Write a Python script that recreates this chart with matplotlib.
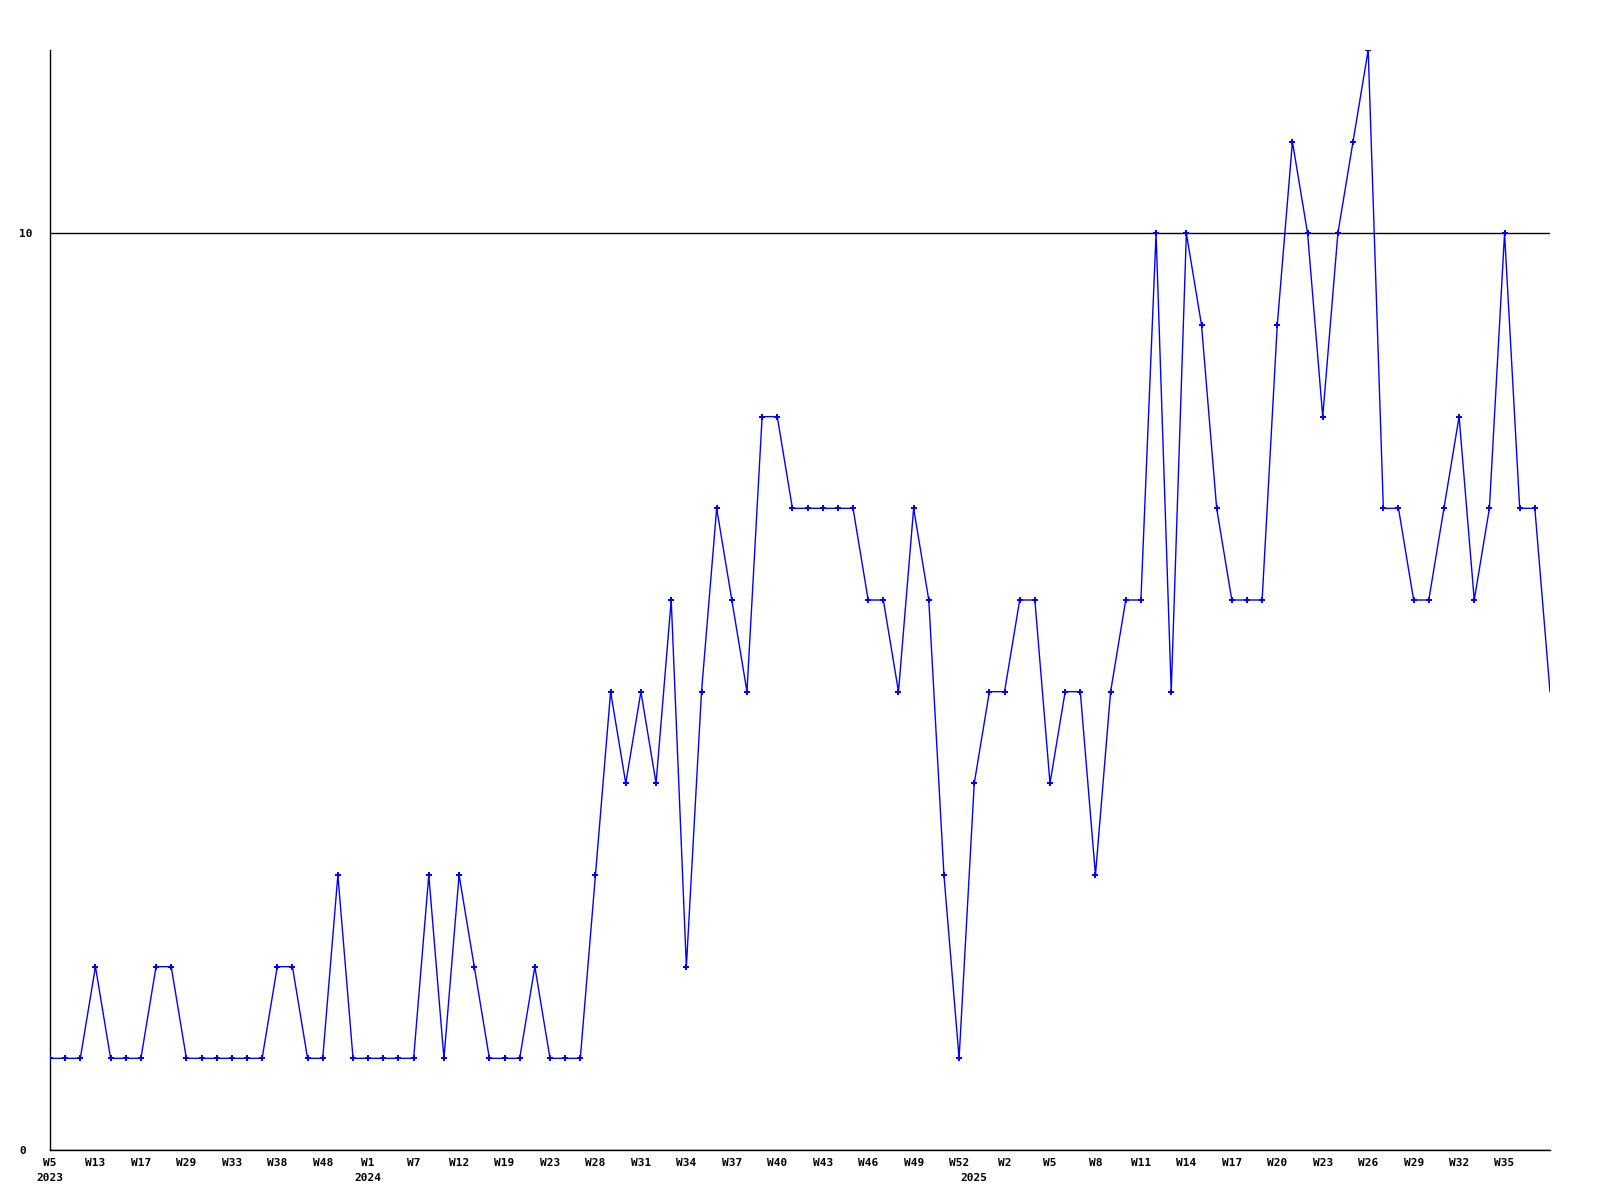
import numpy as np
import matplotlib
matplotlib.use("Agg")
import matplotlib.pyplot as plt
import matplotlib.transforms as mtransforms

# weekly counts, one point per reported week
values = [
    1, 1, 1, 2, 1, 1, 1, 2, 2, 1,
    1, 1, 1, 1, 1, 2, 2, 1, 1, 3,
    1, 1, 1, 1, 1, 3, 1, 3, 2, 1,
    1, 1, 2, 1, 1, 1, 3, 5, 4, 5,
    4, 6, 2, 5, 7, 6, 5, 8, 8, 7,
    7, 7, 7, 7, 6, 6, 5, 7, 6, 3,
    1, 4, 5, 5, 6, 6, 4, 5, 5, 3,
    5, 6, 6, 10, 5, 10, 9, 7, 6, 6,
    6, 9, 11, 10, 8, 10, 11, 12, 7, 7,
    6, 6, 7, 8, 6, 7, 10, 7, 7, 5,
]

# every third point is labelled
week_labels = [
    "W5", "W13", "W17", "W29", "W33", "W38", "W48", "W1", "W7", "W12",
    "W19", "W23", "W28", "W31", "W34", "W37", "W40", "W43", "W46", "W49",
    "W52", "W2", "W5", "W8", "W11", "W14", "W17", "W20", "W23", "W26",
    "W29", "W32", "W35",
]
label_step = 3

# year captions, placed under the first point of each year
years = ["2023", "2024", "2025"]
year_start_idx = [0, 21, 61]

y_ticks = [0, 10]

font = "DejaVu Sans Mono"

fig = plt.figure(figsize=(16, 12), dpi=100)
ax = fig.add_axes([50 / 1600, 50 / 1200, 1500 / 1600, 1100 / 1200])

x = np.arange(len(values))
# the last point sits on the right edge and shows no marker
ax.plot(x, values, color="#0000ff", linewidth=1.0, marker="P",
        markersize=4, markeredgewidth=0, markevery=slice(0, len(values) - 1),
        zorder=3)

ax.set_xlim(0, len(values) - 1)
ax.set_ylim(0, 12)

ax.set_yticks(y_ticks)
ax.set_yticklabels([str(v) for v in y_ticks], fontfamily=font,
                   fontweight="bold", fontsize=8)
for lab in ax.get_yticklabels():
    lab.set_horizontalalignment("left")
ax.tick_params(axis="y", length=0, pad=22.3)

tick_pos = x[::label_step][:len(week_labels)]
ax.set_xticks(tick_pos)
ax.set_xticklabels(week_labels, fontfamily=font, fontweight="bold", fontsize=8)
ax.tick_params(axis="x", length=0, pad=6)

# horizontal reference line at 10
ax.yaxis.grid(True, color="black", linewidth=1.0)
ax.set_axisbelow(True)

for side in ("top", "right"):
    ax.spines[side].set_visible(False)
for side in ("left", "bottom"):
    ax.spines[side].set_color("black")
    ax.spines[side].set_linewidth(1.0)

trans = mtransforms.blended_transform_factory(ax.transData, fig.transFigure)
for yr, idx in zip(years, year_start_idx):
    ax.text(x[idx], 1 - 1173 / 1200, yr, transform=trans, ha="center",
            va="top", fontfamily=font, fontweight="bold", fontsize=8,
            clip_on=False)

fig.savefig("out.png", dpi=100, facecolor="white")
